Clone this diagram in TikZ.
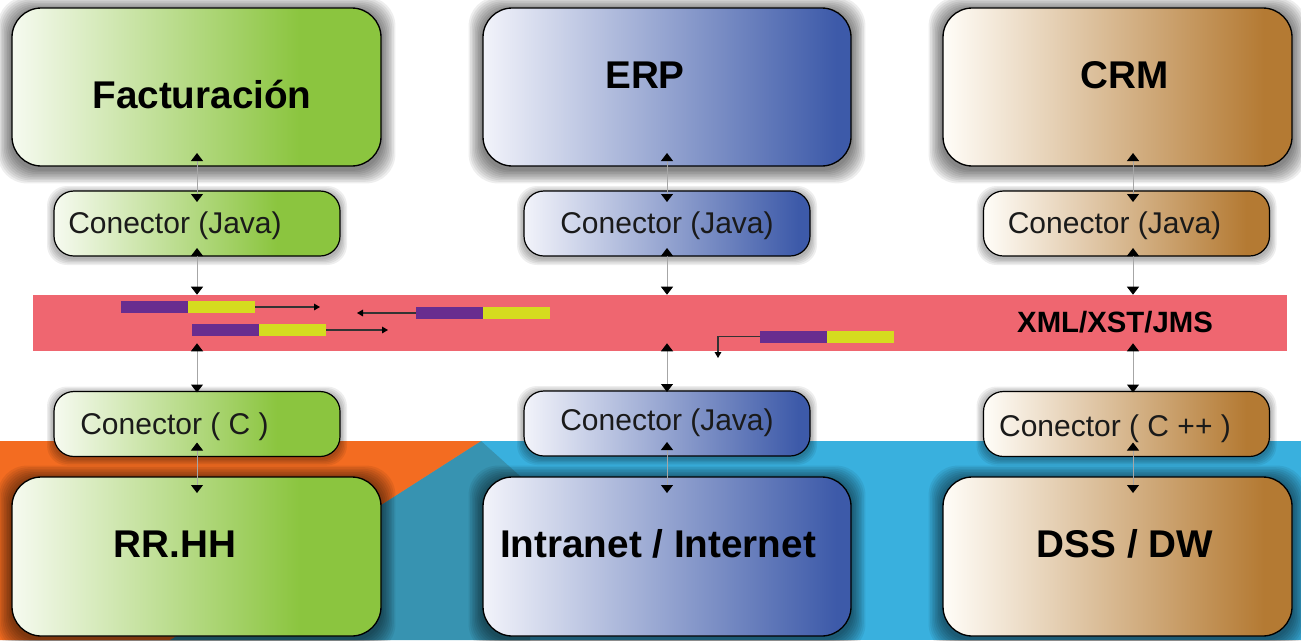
\documentclass[tikz,border=0pt]{standalone}
\usepackage{fontspec}
\setmainfont{Liberation Sans}
\usetikzlibrary{arrows.meta,calc,backgrounds}
\definecolor{gA}{HTML}{F6FAF0}
\definecolor{gB}{HTML}{8BC53F}
\definecolor{bA}{HTML}{F2F3FA}
\definecolor{bB}{HTML}{3D5AA9}
\definecolor{cA}{HTML}{FFFDF8}
\definecolor{cB}{HTML}{B47A33}
\definecolor{bandred}{HTML}{EF6670}
\definecolor{barpurple}{HTML}{682D8F}
\definecolor{baryellow}{HTML}{D5DC1F}
\definecolor{bgorange}{HTML}{F36C21}
\definecolor{bgblue}{HTML}{39B0DE}
\definecolor{bgteal}{HTML}{3793B1}
\definecolor{txtdark}{HTML}{1A1A1A}
\pgfdeclarehorizontalshading{gshade}{100bp}{color(0bp)=(gA); color(25bp)=(gA); color(64bp)=(gB); color(100bp)=(gB)}
\pgfdeclarehorizontalshading{bshade}{100bp}{color(0bp)=(bA); color(25bp)=(bA); color(73bp)=(bB); color(100bp)=(bB)}
\pgfdeclarehorizontalshading{cshade}{100bp}{color(0bp)=(cA); color(25bp)=(cA); color(71bp)=(cB); color(100bp)=(cB)}
\begin{document}
\begin{tikzpicture}[x=0.75pt,y=-0.75pt,
  bigbox/.style={draw=black, line width=1pt, rounded corners=22pt, inner sep=0pt, outer sep=0pt,
    minimum height=118.5pt},
  conbox/.style={draw=black, line width=0.9pt, rounded corners=15pt, inner sep=0pt, outer sep=0pt,
    minimum width=214.5pt, minimum height=48.75pt},
  glowlayer/.style={fill=black, opacity=0.065},
  title/.style={font=\fontsize{29}{34}\selectfont\bfseries, text=black, inner sep=0pt, anchor=base},
  contxt/.style={font=\fontsize{22.5}{27}\selectfont, text=txtdark, inner sep=0pt, anchor=base},
  xmltxt/.style={font=\fontsize{22}{26}\selectfont\bfseries, text=black, inner sep=0pt, anchor=base},
  link/.style={draw=black!35, line width=0.75pt,
    {Triangle[width=9pt,length=6pt,black]}-{Triangle[width=9pt,length=6pt,black]}},
  flow/.style={draw=black!80, line width=0.8pt, -{Triangle[width=5pt,length=4.5pt,black]}},
  pbar/.style={fill=barpurple, inner sep=0pt, outer sep=0pt, minimum width=50.25pt, minimum height=9pt, anchor=west},
  ybar/.style={fill=baryellow, inner sep=0pt, outer sep=0pt, minimum width=50.25pt, minimum height=9pt, anchor=west}
]
\useasboundingbox (0,0) rectangle (1301,640);

% column coordinates
\coordinate (cL) at (197,0);
\coordinate (cM) at (667,0);
\coordinate (cR) at (1133,0);

% band
\node[fill=bandred, inner sep=0pt, minimum width=940.5pt, minimum height=42pt] (band) at (660,323) {};

% top boxes
\node[bigbox, shading=gshade, minimum width=276.75pt] (fact) at (196.5,87) {};
\node[bigbox, shading=bshade, minimum width=276pt] (erp) at (667,87) {};
\node[bigbox, shading=cshade, minimum width=261.75pt] (crm) at (1117.5,87) {};
\node[title] (factT) at (202,108) {Facturación};
\node[title] (erpT) at (645,88) {ERP};
\node[title] (crmT) at (1125,88) {CRM};

% top connectors
\node[conbox, shading=gshade] (conTL) at (197,223.5) {};
\node[conbox, shading=bshade] (conTM) at (667,223.5) {};
\node[conbox, shading=cshade] (conTR) at (1126.5,223.5) {};
\node[contxt] (conTLt) at (175,233) {Conector (Java)};
\node[contxt] (conTMt) at (667,233) {Conector (Java)};
\node[contxt] (conTRt) at (1114.5,233) {Conector (Java)};

% bottom connectors
\node[conbox, shading=gshade] (conBL) at (197,424) {};
\node[conbox, shading=bshade] (conBM) at (667,423.5) {};
\node[conbox, shading=cshade] (conBR) at (1126.5,424) {};
\node[contxt] (conBLt) at (174.5,434) {Conector ( C )};
\node[contxt] (conBMt) at (667,430) {Conector (Java)};
\node[contxt] (conBRt) at (1115,436) {Conector ( C ++ )};

% bottom boxes
\node[bigbox, shading=gshade, minimum width=276.75pt, minimum height=119.25pt] (rrhh) at (196.5,556.5) {};
\node[bigbox, shading=bshade, minimum width=276pt, minimum height=119.25pt] (intra) at (667,556.5) {};
\node[bigbox, shading=cshade, minimum width=261.75pt, minimum height=119.25pt] (dss) at (1117.5,556.5) {};
\node[title] (rrhhT) at (175,557) {RR.HH};
\node[title] (intraT) at (658,557) {Intranet / Internet};
\node[title] (dssT) at (1125,557) {DSS / DW};

\node[xmltxt] (xml) at (1115,332) {XML/XST/JMS};

% links
\foreach \top/\con/\bcon/\bot/\col in {fact/conTL/conBL/rrhh/cL, erp/conTM/conBM/intra/cM, crm/conTR/conBR/dss/cR}{
  \draw[link] ($(\top.south -| \col)+(0,-13)$) -- ($(\con.north -| \col)+(0,11)$);
  \draw[link] ($(\con.south -| \col)+(0,-8)$) -- ($(band.north -| \col)+(0,0)$);
  \draw[link] ($(band.south -| \col)+(0,-8)$) -- ($(\bcon.north -| \col)+(0,1)$);
  \draw[link] ($(\bcon.south -| \col)+(0,-14)$) -- ($(\bot.north -| \col)+(0,16)$);
}

% message bars
\node[pbar] (p1) at (121,307) {};
\node[ybar] (y1) at (p1.east) {};
\coordinate (a1) at (320,307);
\draw[flow] (y1.east) -- (a1);

\node[pbar] (p2) at (192,330) {};
\node[ybar] (y2) at (p2.east) {};
\coordinate (a2) at (388,330);
\draw[flow] (y2.east) -- (a2);

\node[pbar] (p3) at (416,313) {};
\node[ybar] (y3) at (p3.east) {};
\coordinate (a3) at (357,313);
\draw[flow] (p3.west) -- (a3);

\node[pbar] (p4) at (760,336.5) {};
\node[ybar] (y4) at (p4.east) {};
\coordinate (a4) at (718,358);
\draw[flow] (p4.west) -| (a4);

% background and soft shadows
\begin{scope}[on background layer]
  \fill[white] (0,0) rectangle (1301,640);
  \fill[bgblue] (0,441) rectangle (1301,640);
  \fill[bgteal] (481,441) -- (530,485) -- (530,640) -- (170,640) -- cycle;
  \fill[bgorange] (0,441) -- (481,441) -- (170,640) -- (0,640) -- cycle;
  \foreach \b in {fact,erp,crm,rrhh,intra,dss}{
    \foreach \i in {1,...,9}{
      \fill[glowlayer, rounded corners=22pt]
        ($(\b.south west)+(-1.6*\i,1.6*\i+3)$) rectangle ($(\b.north east)+(1.6*\i,-1.6*\i+3)$);
    }
  }
  \foreach \b in {conTL,conTM,conTR,conBL,conBM,conBR}{
    \foreach \i in {1,...,5}{
      \fill[glowlayer, rounded corners=15pt]
        ($(\b.south west)+(-1.4*\i,1.4*\i+2)$) rectangle ($(\b.north east)+(1.4*\i,-1.4*\i+2)$);
    }
  }
\end{scope}
\end{tikzpicture}
\end{document}
